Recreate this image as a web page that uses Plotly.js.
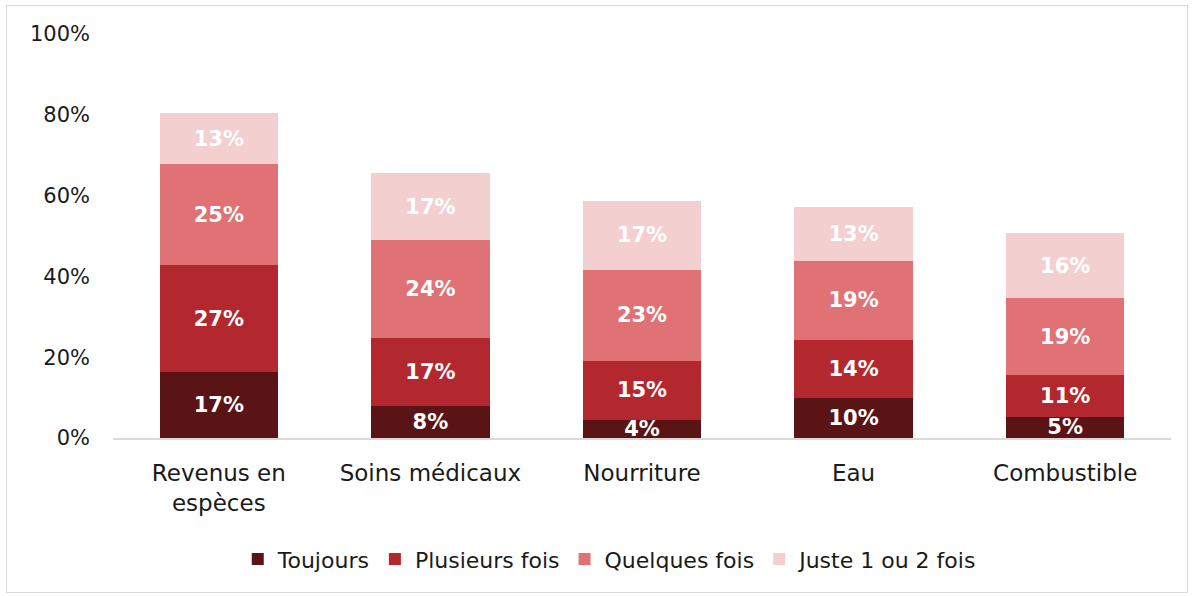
<!DOCTYPE html>
<html><head><meta charset="utf-8">
<script src="https://cdn.plot.ly/plotly-3.0.1.min.js"></script>
<style>
html,body{margin:0;padding:0;background:#fff;}
#wrap{position:relative;width:1194px;height:596px;}
#frame{position:absolute;left:6px;top:5px;width:1182px;height:588px;border:1.5px solid #d9d9d9;box-sizing:border-box;pointer-events:none;}
#chart{position:absolute;left:0;top:0;width:1194px;height:596px;}
</style></head>
<body><div id="wrap"><div id="chart"></div><div id="frame"></div></div>
<script>
const categories = ["Revenus en<br>espèces", "Soins médicaux", "Nourriture", "Eau", "Combustible"];
const seriesNames = ["Toujours", "Plusieurs fois", "Quelques fois", "Juste 1 ou 2 fois"];
const toujours      = [16.3, 7.9, 4.5, 9.9, 5.2];
const plusieurs     = [26.5, 16.8, 14.6, 14.4, 10.4];
const quelques      = [25.0, 24.3, 22.5, 19.5, 19.0];
const juste         = [12.6, 16.6, 17.1, 13.4, 16.1];
const toujoursLbl   = ["17%", "8%", "4%", "10%", "5%"];
const plusieursLbl  = ["27%", "17%", "15%", "14%", "11%"];
const quelquesLbl   = ["25%", "24%", "23%", "19%", "19%"];
const justeLbl      = ["13%", "17%", "17%", "13%", "16%"];
const yTickVals = [0, 20, 40, 60, 80, 100];
const yTickText = ["0%", "20%", "40%", "60%", "80%", "100%"];

const colors = ["#5a1416", "#b3282e", "#e07275", "#f4cfd0"];
const vals = [toujours, plusieurs, quelques, juste];
const lbls = [toujoursLbl, plusieursLbl, quelquesLbl, justeLbl];
const FONT = "'DejaVu Sans', sans-serif";

const traces = vals.map((v, i) => ({
  type: "bar", name: seriesNames[i], x: categories, y: v,
  text: lbls[i], textposition: "inside", insidetextanchor: "middle",
  textangle: 0, constraintext: "none", cliponaxis: false,
  texttemplate: "<b>%{text}</b>",
  textfont: {family: FONT, size: 21, color: "#ffffff"},
  marker: {color: colors[i], line: {width: 0}},
  hoverinfo: "skip"
}));

const layout = {
  width: 1194, height: 596,
  margin: {l: 113, r: 23, t: 34, b: 158},
  barmode: "stack", bargap: 0.44,
  paper_bgcolor: "#fff", plot_bgcolor: "#fff",
  font: {family: FONT, size: 22, color: "#1a1a1a"},
  xaxis: {showline: true, linecolor: "#d9d9d9", linewidth: 1.5, showgrid: false,
          ticks: "", ticklabelstandoff: 14, tickfont: {size: 23}},
  yaxis: {range: [0, 100], tickvals: yTickVals, ticktext: yTickText,
          showgrid: false, zeroline: false, showline: false, ticks: "",
          ticklabelstandoff: 22, tickfont: {size: 21}},
  legend: {orientation: "h", x: 0.47, xanchor: "center", y: -0.3, yanchor: "middle",
           font: {size: 22}, traceorder: "normal", itemwidth: 30},
  showlegend: true
};
Plotly.newPlot("chart", traces, layout, {staticPlot: true});
</script></body></html>
